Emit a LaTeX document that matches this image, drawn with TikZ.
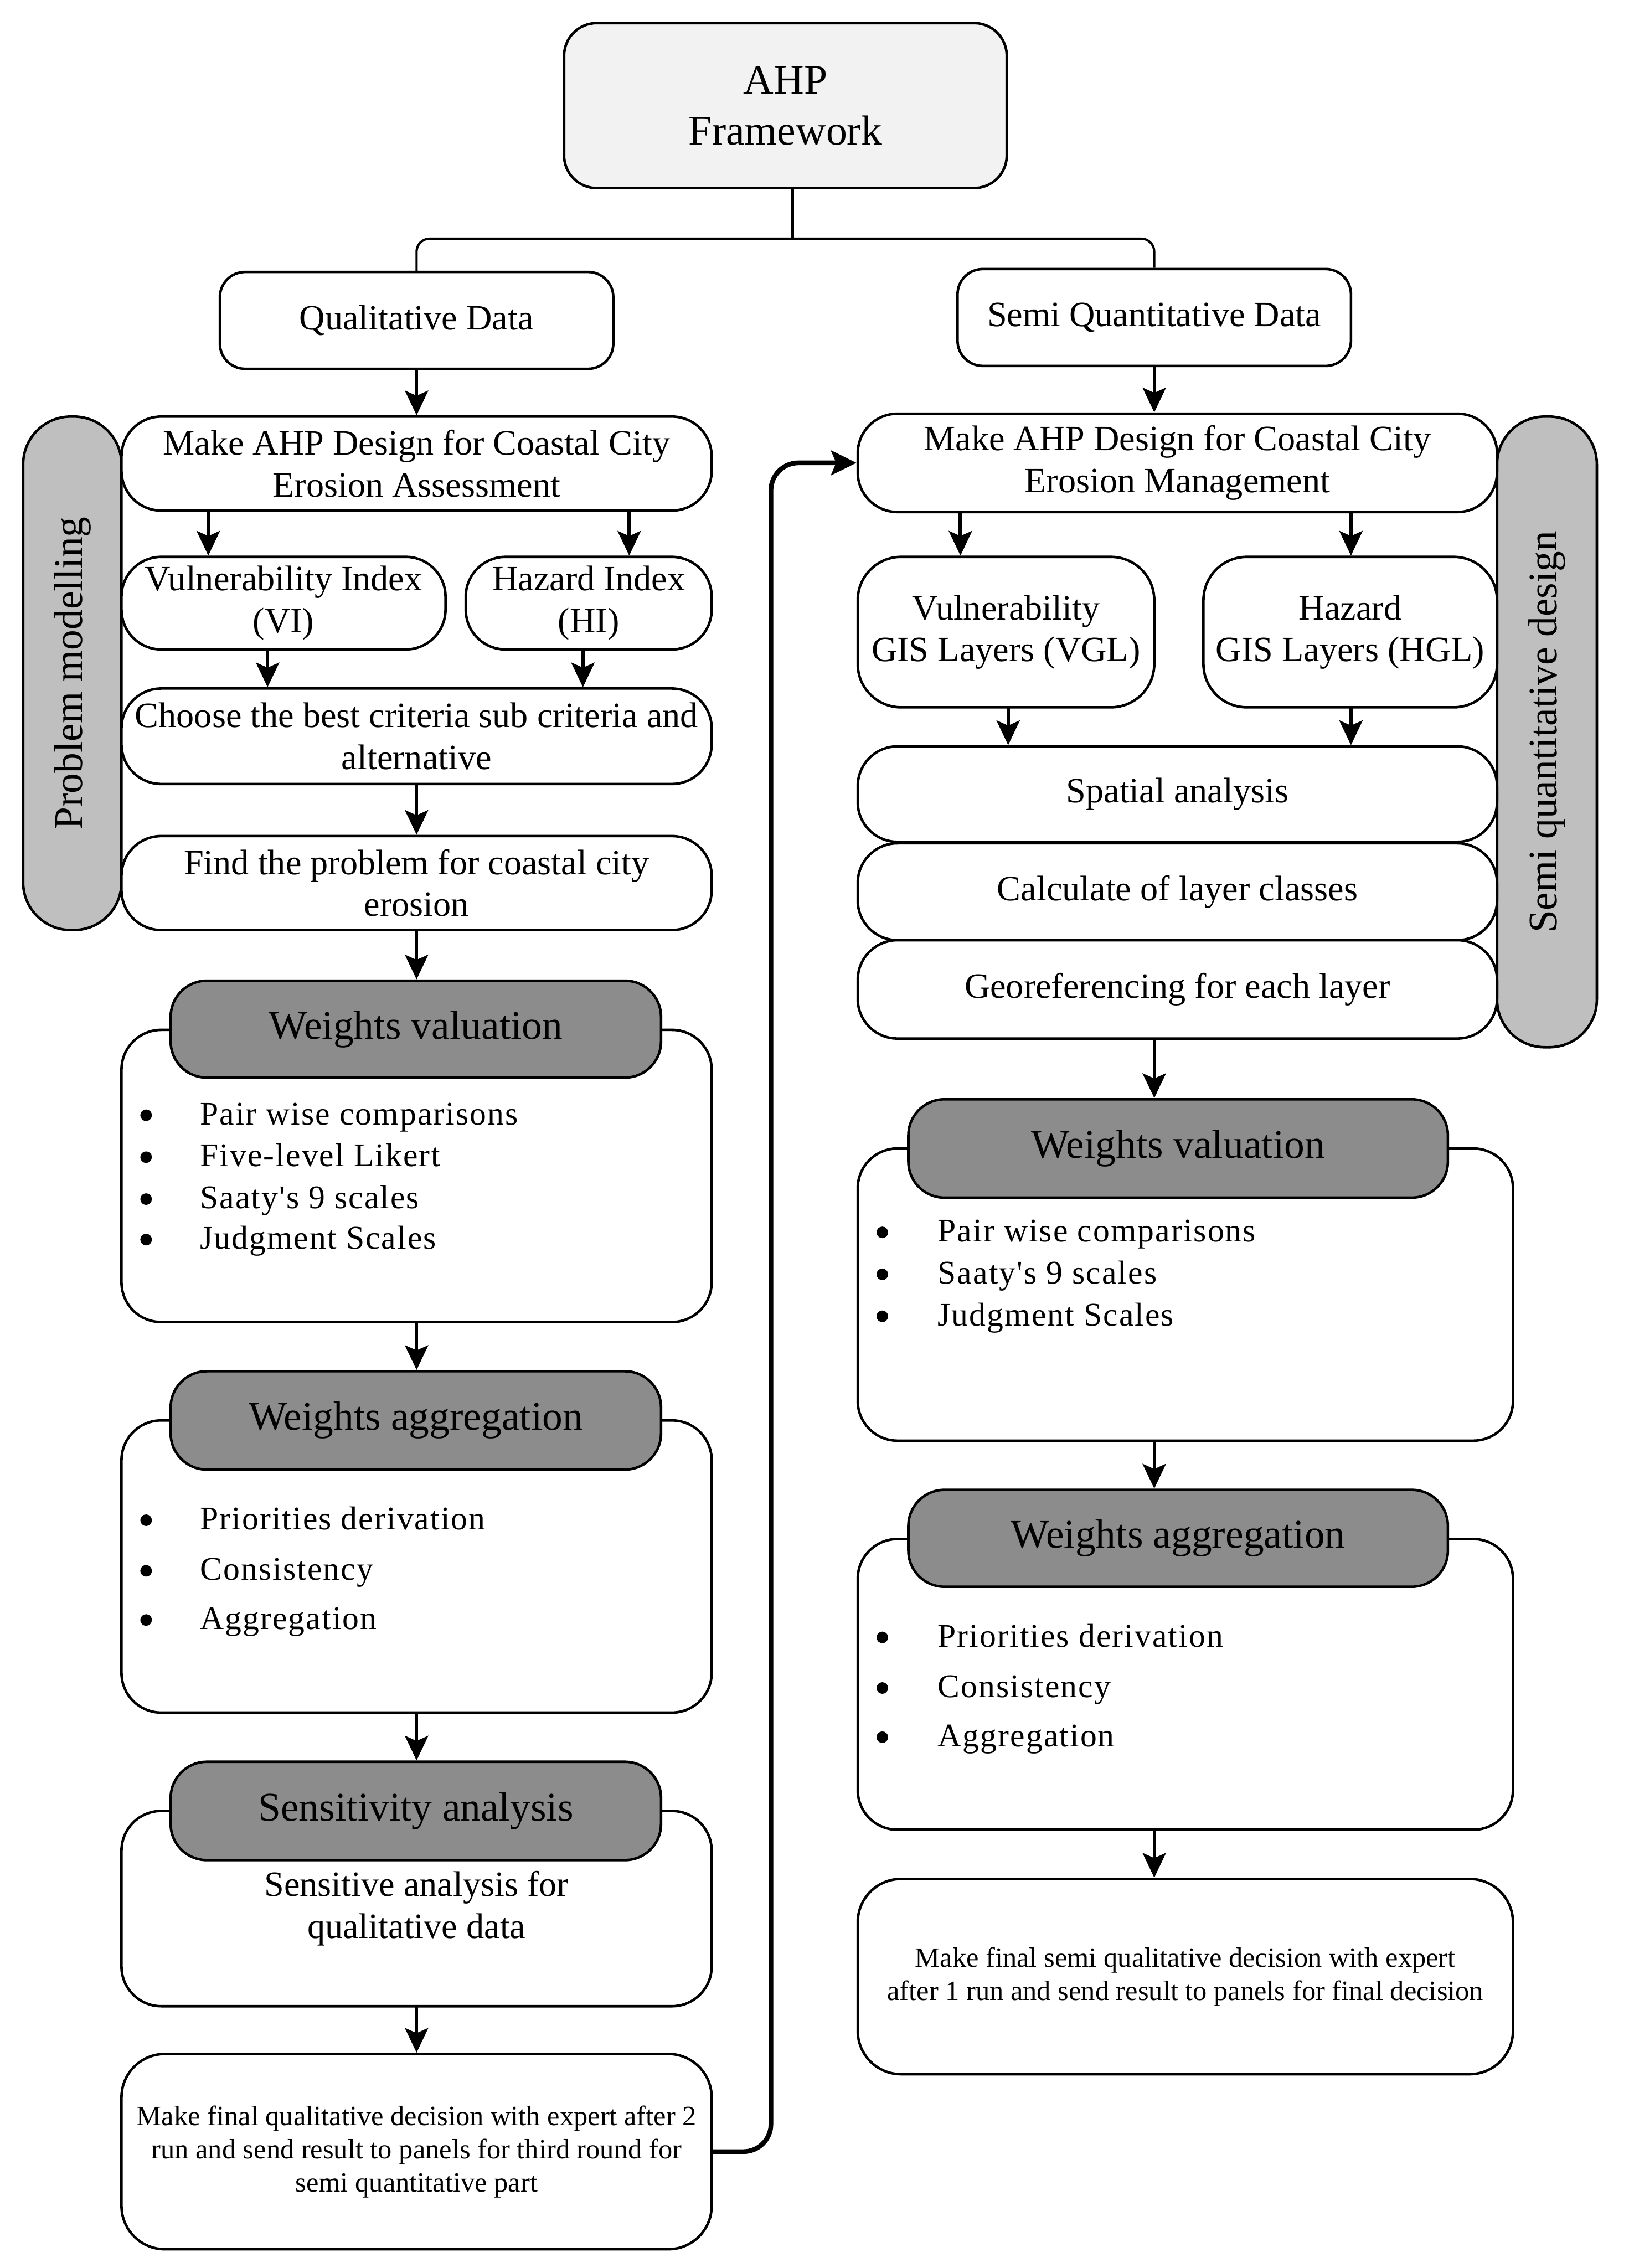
\documentclass[tikz,border=0pt]{standalone}
\usepackage{fontspec}
\setmainfont{Liberation Serif}
\newfontfamily\spacedfont[LetterSpace=3.5]{Liberation Serif}
\usetikzlibrary{arrows.meta}
\definecolor{ahpgray}{HTML}{F2F2F2}
\definecolor{bargray}{HTML}{BFBFBF}
\definecolor{headgray}{HTML}{8C8C8C}

\newcommand\mybox[7]{%
 \pgfmathsetmacro\bxcx{(#2+#4)/2}%
 \pgfmathsetmacro\bxcy{(#3+#5)/2}%
 \pgfmathsetmacro\bxw{(#4-#2)*0.02}%
 \pgfmathsetmacro\bxh{(#5-#3)*0.02}%
 \node[#6, minimum width=\bxw cm, minimum height=\bxh cm] (#1) at (\bxcx,\bxcy) {#7};}

\begin{document}
\begin{tikzpicture}[x=0.02cm,y=-0.02cm,
  base/.style={draw=black, line width=1pt, align=center, inner sep=0pt, text=black},
  whitebox/.style={base, fill=white, rounded corners=0.55cm, font=\fontsize{14}{16.5}\selectfont},
  databox/.style={base, fill=white, rounded corners=0.35cm, font=\fontsize{14}{16.5}\selectfont},
  gisbox/.style={base, fill=white, rounded corners=0.6cm, font=\fontsize{14}{16.5}\selectfont},
  ahpbox/.style={base, fill=ahpgray, rounded corners=0.45cm, font=\fontsize{16.5}{20}\selectfont},
  sidebar/.style={base, fill=bargray, rounded corners=0.66cm},
  sidetext/.style={rotate=90, inner sep=0pt, font=\fontsize{16}{19}\selectfont},
  headbox/.style={base, fill=headgray, rounded corners=0.5cm, font=\fontsize{16}{19}\selectfont},
  bodybox/.style={base, fill=white, rounded corners=0.55cm, font=\fontsize{14}{16.5}\selectfont},
  finalbox/.style={base, fill=white, rounded corners=0.6cm, font=\fontsize{11}{13.1}\selectfont},
  bullettext/.style={anchor=base west, inner sep=0pt, font=\spacedfont\fontsize{13}{15}\selectfont},
  flow/.style={line width=1.35pt, line cap=round, -{Stealth[length=0.34cm,width=0.32cm,inset=0.07cm]}},
  loopline/.style={line width=1.85pt, rounded corners=0.38cm, -{Stealth[length=0.35cm,width=0.34cm,inset=0.07cm]}},
  branch/.style={line width=0.9pt, rounded corners=0.18cm},
]
\useasboundingbox (0,0) rectangle (1126,1568);

% ---------- top ----------
\mybox{ahp}{390}{16}{696}{130}{ahpbox}{AHP\\Framework}
\mybox{qual}{152}{188}{424}{255}{databox}{Qualitative Data}
\mybox{semi}{662}{186}{934}{253}{databox}{Semi Quantitative Data}

\coordinate (brj) at (548,165);
\draw[branch] (ahp.south -| brj) -- (brj);
\draw[branch] (qual.north) |- (brj) -| (semi.north);

% ---------- left column ----------
\mybox{pm}{16}{288}{84}{643}{sidebar}{}
\node[sidetext] (pmt) at (pm.center) {Problem modelling};
\mybox{mA}{84}{288}{492}{353}{whitebox}{Make AHP Design for Coastal City\\Erosion Assessment}
\mybox{vi}{84}{385}{308}{449}{whitebox}{Vulnerability Index\\(VI)}
\mybox{hi}{322}{385}{492}{449}{whitebox}{Hazard Index\\(HI)}
\mybox{cb}{84}{476}{492}{542}{whitebox}{Choose the best criteria sub criteria and\\alternative}
\mybox{fp}{84}{578}{492}{643}{whitebox}{Find the problem for coastal city\\erosion}

\mybox{wvLb}{84}{712}{492}{914}{bodybox}{}
\mybox{wvLh}{118}{678}{457}{745}{headbox}{Weights valuation}
\fill (101,771) circle (0.08cm);
\fill (101,800) circle (0.08cm);
\fill (101,829) circle (0.08cm);
\fill (101,857) circle (0.08cm);
\node[bullettext] (lv1) at (138,777.5) {Pair wise comparisons};
\node[bullettext] (lv2) at (138,806.5) {Five-level Likert};
\node[bullettext] (lv3) at (138,835.5) {Saaty's 9 scales};
\node[bullettext] (lv4) at (138,863.5) {Judgment Scales};

\mybox{waLb}{84}{982}{492}{1184}{bodybox}{}
\mybox{waLh}{118}{948}{457}{1016}{headbox}{Weights aggregation}
\fill (101,1051) circle (0.08cm);
\fill (101,1086) circle (0.08cm);
\fill (101,1120) circle (0.08cm);
\node[bullettext] (la1) at (138,1057.5) {Priorities derivation};
\node[bullettext] (la2) at (138,1092.5) {Consistency};
\node[bullettext] (la3) at (138,1126.5) {Aggregation};

\mybox{saLb}{84}{1252}{492}{1387}{bodybox}{\rule{0pt}{0.05cm}Sensitive analysis for\\qualitative data}
\mybox{saLh}{118}{1218}{457}{1286}{headbox}{Sensitivity analysis}

\mybox{finL}{84}{1420}{492}{1555}{finalbox}{Make final qualitative decision with expert after 2\\run and send result to panels for third round for\\semi quantitative part}

% ---------- right column ----------
\mybox{sq}{1035}{288}{1104}{724}{sidebar}{}
\node[sidetext] (sqt) at (sq.center) {Semi quantitative design};
\mybox{mB}{593}{286}{1035}{354}{whitebox}{Make AHP Design for Coastal City\\Erosion Management}
\mybox{vgl}{593}{385}{798}{489}{gisbox}{Vulnerability\\GIS Layers (VGL)}
\mybox{hgl}{832}{385}{1035}{489}{gisbox}{Hazard\\GIS Layers (HGL)}
\mybox{sp}{593}{516}{1035}{582}{whitebox}{Spatial analysis}
\mybox{cl}{593}{583}{1035}{650}{whitebox}{Calculate of layer classes}
\mybox{gr}{593}{650}{1035}{718}{whitebox}{Georeferencing for each layer}

\mybox{wvRb}{593}{794}{1046}{996}{bodybox}{}
\mybox{wvRh}{628}{760}{1001}{828}{headbox}{Weights valuation}
\fill (610,852) circle (0.08cm);
\fill (610,881) circle (0.08cm);
\fill (610,910) circle (0.08cm);
\node[bullettext] (rv1) at (648,858.5) {Pair wise comparisons};
\node[bullettext] (rv2) at (648,887.5) {Saaty's 9 scales};
\node[bullettext] (rv3) at (648,916.5) {Judgment Scales};

\mybox{waRb}{593}{1064}{1046}{1265}{bodybox}{}
\mybox{waRh}{628}{1030}{1001}{1097}{headbox}{Weights aggregation}
\fill (610,1132) circle (0.08cm);
\fill (610,1167) circle (0.08cm);
\fill (610,1201) circle (0.08cm);
\node[bullettext] (ra1) at (648,1138.5) {Priorities derivation};
\node[bullettext] (ra2) at (648,1173.5) {Consistency};
\node[bullettext] (ra3) at (648,1207.5) {Aggregation};

\mybox{finR}{593}{1299}{1046}{1434}{finalbox}{Make final semi qualitative decision with expert\\after 1 run and send result to panels for final decision}

% ---------- connectors ----------
\coordinate (c144) at (144,0);
\coordinate (c435) at (435,0);
\coordinate (c185) at (185,0);
\coordinate (c403) at (403,0);
\coordinate (c664) at (664,0);
\coordinate (c934) at (934,0);
\coordinate (c697) at (697,0);
\coordinate (c798) at (798,0);
\coordinate (lx) at (533,0);

\draw[flow] (qual.south) -- (qual.south |- mA.north);
\draw[flow] (semi.south) -- (semi.south |- mB.north);
\draw[flow] (mA.south -| c144) -- (vi.north -| c144);
\draw[flow] (mA.south -| c435) -- (hi.north -| c435);
\draw[flow] (vi.south -| c185) -- (cb.north -| c185);
\draw[flow] (hi.south -| c403) -- (cb.north -| c403);
\draw[flow] (cb.south) -- (fp.north);
\draw[flow] (fp.south) -- (fp.south |- wvLh.north);
\draw[flow] (wvLb.south) -- (wvLb.south |- waLh.north);
\draw[flow] (waLb.south) -- (waLb.south |- saLh.north);
\draw[flow] (saLb.south) -- (finL.north);

\draw[flow] (mB.south -| c664) -- (vgl.north -| c664);
\draw[flow] (mB.south -| c934) -- (hgl.north -| c934);
\draw[flow] (vgl.south -| c697) -- (sp.north -| c697);
\draw[flow] (hgl.south -| c934) -- (sp.north -| c934);
\draw[flow] (gr.south -| c798) -- (wvRh.north -| c798);
\draw[flow] (wvRb.south -| c798) -- (waRh.north -| c798);
\draw[flow] (waRb.south -| c798) -- (finR.north -| c798);

\draw[loopline] (finL.east) -| (lx |- mB.west) -- (mB.west);
\end{tikzpicture}
\end{document}
